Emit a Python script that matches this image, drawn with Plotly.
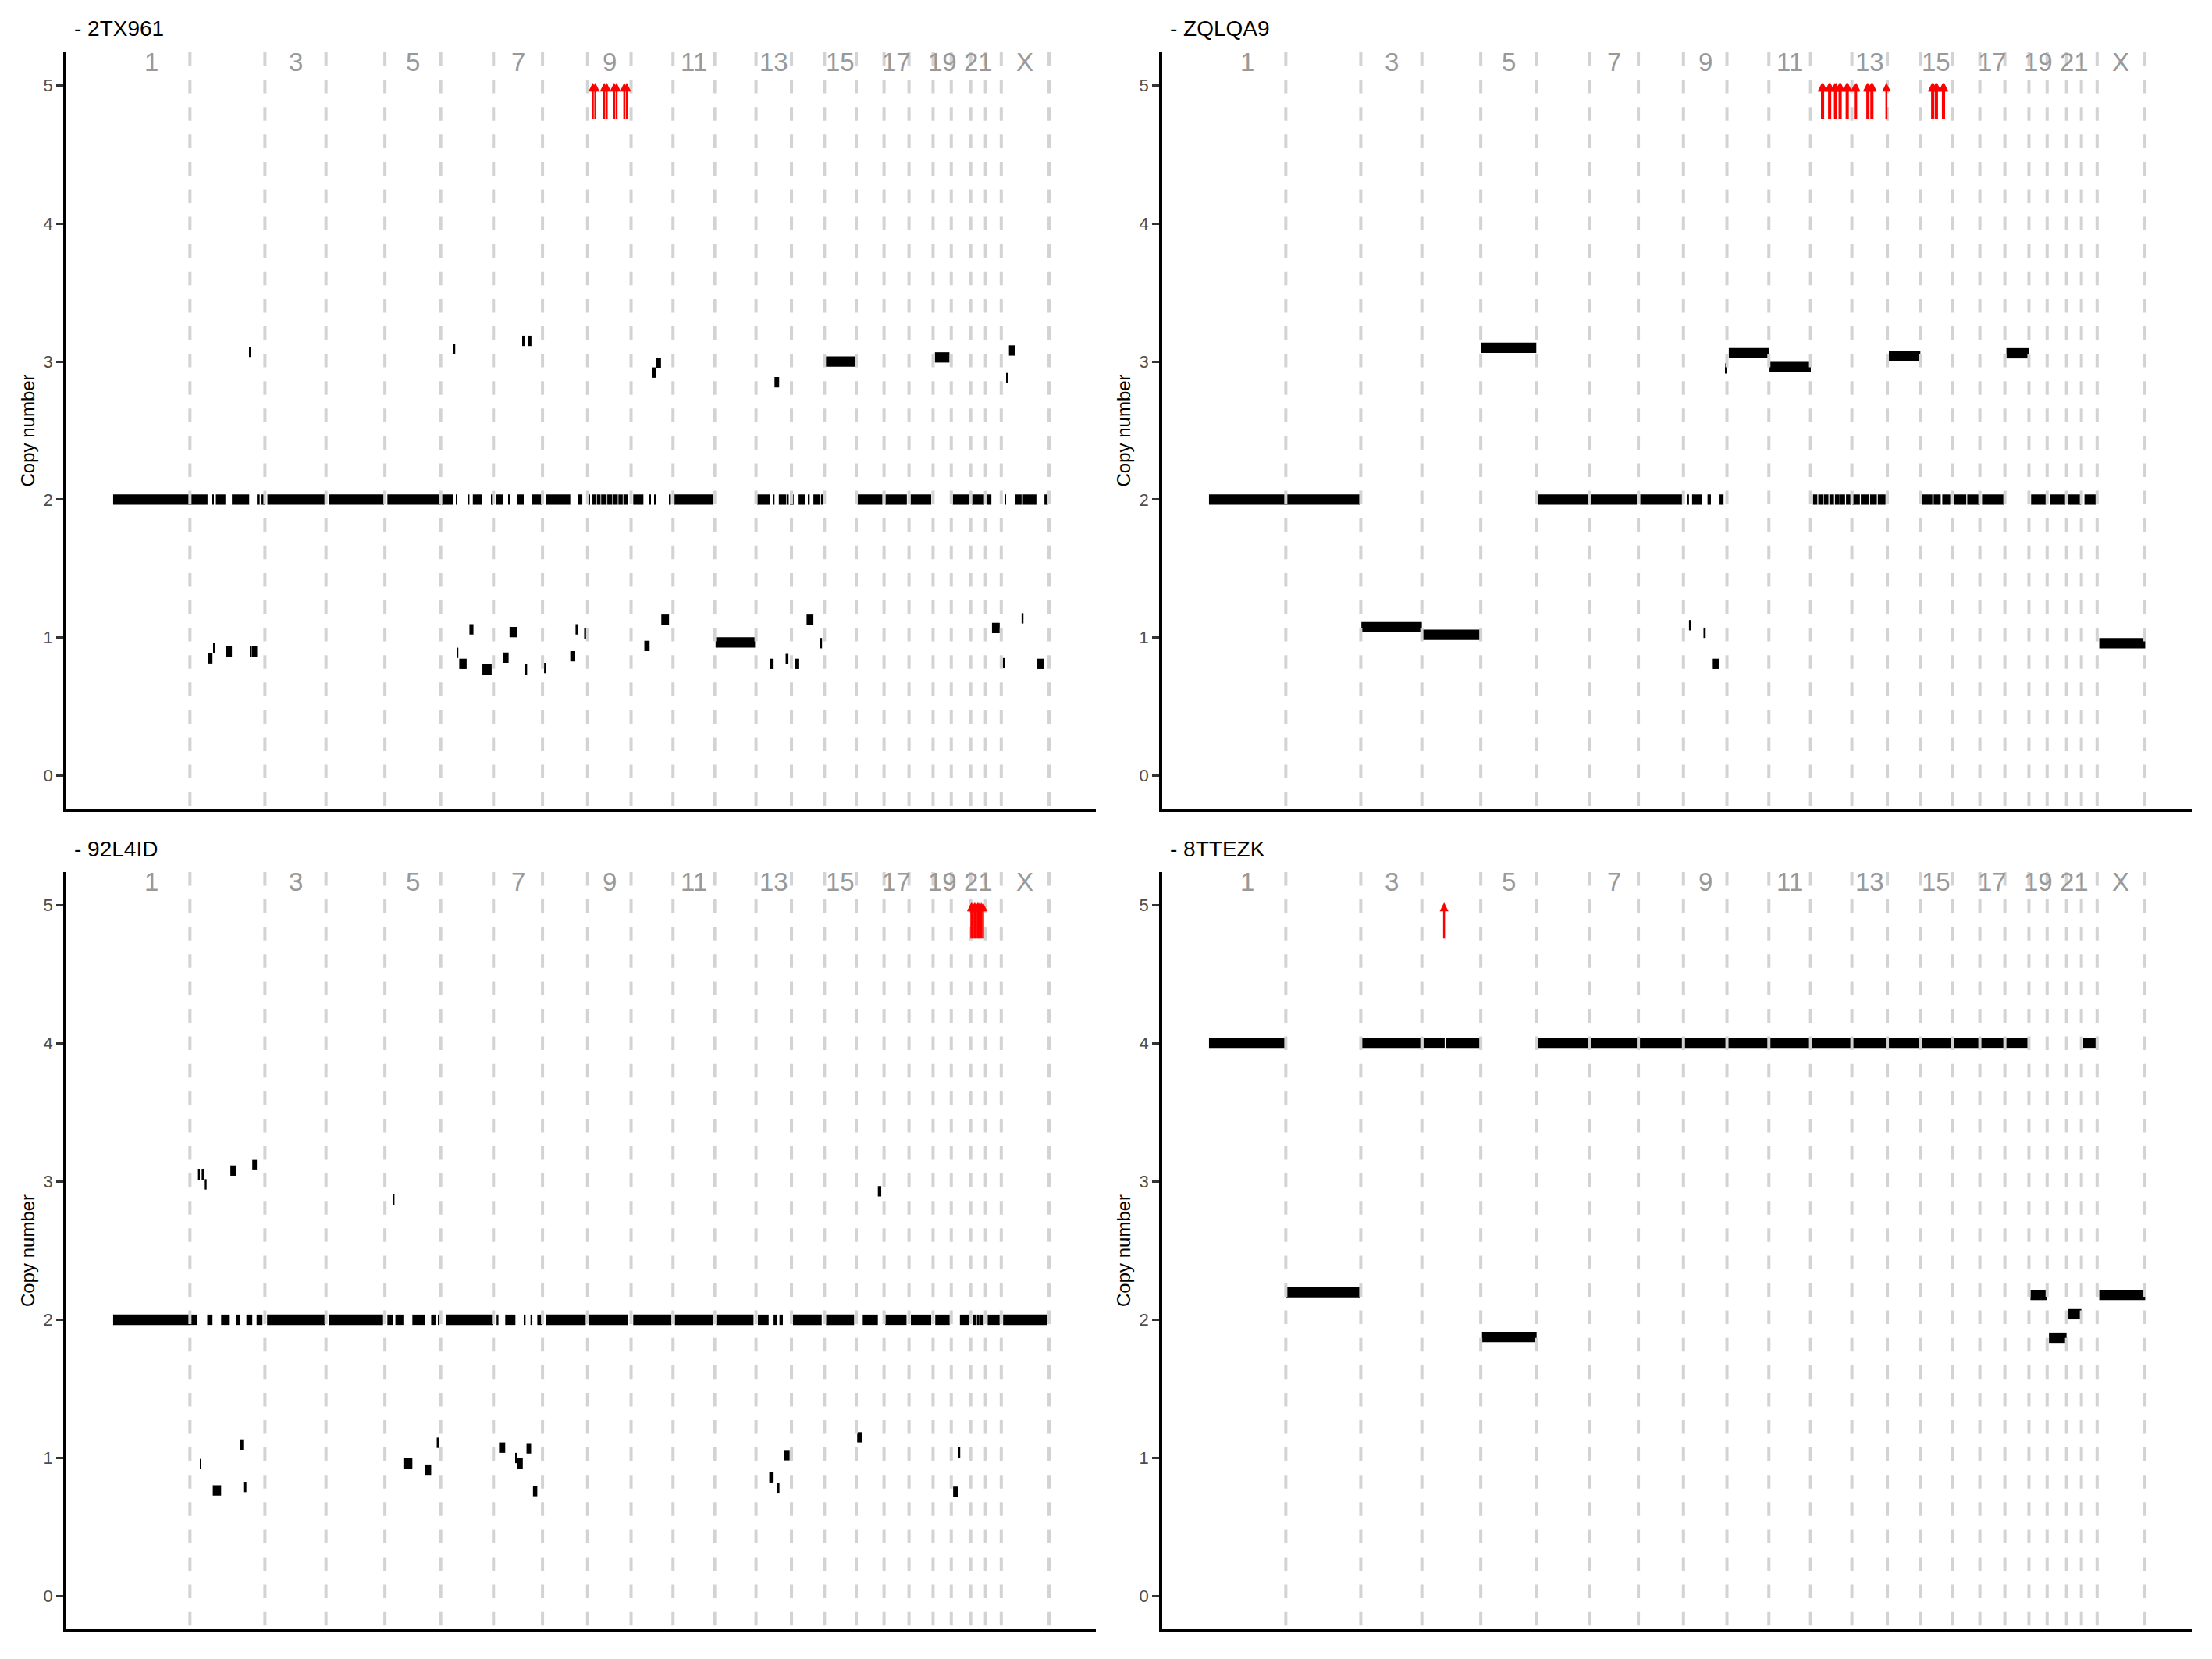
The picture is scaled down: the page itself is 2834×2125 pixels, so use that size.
import plotly.graph_objects as go

W, H = 2834, 2125
FONT = "Liberation Sans"

# ---------------- data ----------------
CHROMS = [str(i) for i in range(1, 23)] + ["X"]
CHROM_LEN_MB = [249, 243, 198, 191, 181, 171, 159, 146, 141, 136, 135, 134,
                115, 107, 103, 90, 81, 78, 59, 63, 48, 51, 155]
LABELED_CHROMS = ["1", "3", "5", "7", "9", "11", "13", "15", "17", "19", "21", "X"]
SAMPLES = ["2TX961", "ZQLQA9", "92L4ID", "8TTEZK"]
Y_TICKS = [0, 1, 2, 3, 4, 5]

# segments: (genome start Mb, genome end Mb, copy number)
SEG_2TX961 = [
    (0, 249, 2), (251, 306, 2), (322, 326, 2), (333, 364, 2), (385, 441, 2), (466, 475, 2),
    (481, 492, 2), (500, 688, 2), (699, 878, 2), (889, 1062, 2), (1065, 1102, 2), (1111, 1115, 2),
    (1150, 1155, 2), (1166, 1196, 2), (1227, 1232, 2), (1241, 1263, 2), (1281, 1285, 2),
    (1309, 1331, 2), (1358, 1392, 2), (1403, 1482, 2), (1507, 1521, 2), (1540, 1546, 2),
    (1552, 1566, 2), (1568, 1580, 2), (1582, 1600, 2), (1602, 1618, 2), (1620, 1636, 2),
    (1638, 1652, 2), (1654, 1670, 2), (1686, 1719, 2), (1739, 1743, 2), (1755, 1759, 2),
    (1803, 1808, 2), (1818, 1944, 2), (2088, 2130, 2), (2140, 2144, 2), (2158, 2182, 2),
    (2186, 2190, 2), (2194, 2206, 2), (2222, 2244, 2), (2252, 2258, 2), (2270, 2293, 2),
    (2297, 2300, 2), (2413, 2494, 2), (2503, 2573, 2), (2585, 2652, 2), (2722, 2775, 2),
    (2784, 2824, 2), (2834, 2847, 2), (2890, 2894, 2), (2925, 2945, 2), (2949, 2993, 2),
    (3019, 3030, 2),
    (441, 445, 3.07), (1101, 1109, 3.09), (1326, 1334, 3.15), (1344, 1356, 3.15),
    (1746, 1759, 2.92), (1761, 1776, 2.99), (2144, 2159, 2.85), (2308, 2406, 3.0),
    (2664, 2711, 3.03), (2895, 2900, 2.88), (2904, 2923, 3.08),
    (308, 322, 0.85), (325, 329, 0.925), (366, 385, 0.90), (443, 446, 0.90), (449, 467, 0.90),
    (1114, 1119, 0.89), (1122, 1146, 0.81), (1155, 1168, 1.06), (1197, 1227, 0.77),
    (1263, 1282, 0.855), (1285, 1309, 1.04), (1337, 1342, 0.77), (1397, 1403, 0.78),
    (1482, 1498, 0.865), (1499, 1507, 1.06), (1527, 1535, 1.03), (1722, 1739, 0.94),
    (1777, 1802, 1.13), (1953, 2081, 0.965), (2130, 2141, 0.81), (2180, 2189, 0.845),
    (2209, 2224, 0.81), (2248, 2270, 1.13), (2292, 2298, 0.96), (2849, 2874, 1.07),
    (2884, 2890, 0.815), (2945, 2951, 1.14), (2994, 3017, 0.81),
]

SEG_ZQLQA9 = [
    (0, 249, 2), (251, 490, 2), (494, 690, 1.075), (692, 879, 1.02), (883, 1061, 3.10),
    (1066, 1231, 2), (1236, 1387, 2), (1398, 1534, 2), (1549, 1556, 2), (1566, 1599, 2),
    (1616, 1627, 2), (1655, 1668, 2), (1556, 1562, 1.09), (1603, 1610, 1.035),
    (1633, 1653, 0.81), (1673, 1677, 2.95), (1685, 1815, 3.06), (1817, 1951, 2.96),
    (1958, 1972, 2), (1975, 1990, 2), (1993, 2008, 2), (2011, 2026, 2), (2029, 2044, 2),
    (2047, 2062, 2), (2065, 2082, 2), (2086, 2110, 2), (2113, 2140, 2), (2143, 2165, 2),
    (2168, 2193, 2), (2204, 2306, 3.04), (2312, 2345, 2), (2349, 2372, 2), (2377, 2403, 2),
    (2414, 2455, 2), (2458, 2499, 2), (2506, 2576, 2), (2585, 2658, 3.06), (2665, 2713, 2),
    (2726, 2776, 2), (2786, 2827, 2), (2838, 2875, 2), (2886, 3035, 0.96),
]

SEG_92L4ID = [
    (0, 249, 2), (251, 273, 2), (305, 322, 2), (350, 378, 2), (399, 410, 2), (432, 451, 2),
    (465, 484, 2), (499, 688, 2), (699, 875, 2), (889, 906, 2), (915, 941, 2), (970, 1010, 2),
    (1031, 1045, 2), (1053, 1058, 2), (1078, 1232, 2), (1243, 1249, 2), (1271, 1304, 2),
    (1331, 1337, 2), (1353, 1359, 2), (1375, 1392, 2), (1403, 1532, 2), (1543, 1670, 2),
    (1686, 1810, 2), (1821, 1944, 2), (1955, 2076, 2), (2090, 2125, 2), (2141, 2152, 2),
    (2160, 2171, 2), (2204, 2297, 2), (2311, 2402, 2), (2430, 2479, 2), (2503, 2572, 2),
    (2586, 2652, 2), (2665, 2712, 2), (2745, 2776, 2), (2787, 2797, 2), (2800, 2808, 2),
    (2811, 2822, 2), (2835, 2874, 2), (2885, 3028, 2),
    (275, 281, 3.05), (287, 294, 3.05), (297, 303, 2.98), (380, 399, 3.08), (451, 466, 3.12),
    (906, 912, 2.87), (2479, 2490, 2.93),
    (281, 286, 0.956), (323, 350, 0.765), (411, 422, 1.097), (422, 432, 0.79),
    (941, 970, 0.96), (1010, 1031, 0.915), (1049, 1056, 1.11), (1251, 1271, 1.075),
    (1304, 1309, 1.0), (1309, 1328, 0.96), (1340, 1355, 1.07), (1361, 1375, 0.76),
    (2127, 2141, 0.86), (2152, 2160, 0.78), (2174, 2193, 1.02), (2412, 2429, 1.15),
    (2742, 2746, 1.04), (2723, 2739, 0.755),
]

SEG_8TTEZK = [
    (0, 249, 4), (251, 490, 2.2), (494, 690, 4), (695, 764, 4), (768, 879, 4),
    (885, 1062, 1.875), (1064, 1232, 4), (1235, 1391, 4), (1394, 1537, 4), (1540, 1678, 4),
    (1681, 1814, 4), (1817, 1949, 4), (1952, 2083, 4), (2086, 2198, 4), (2201, 2305, 4),
    (2308, 2408, 4), (2411, 2498, 4), (2501, 2579, 4), (2582, 2657, 4), (2663, 2717, 2.18),
    (2723, 2780, 1.87), (2786, 2828, 2.04), (2834, 2879, 4), (2886, 3035, 2.18),
]

# arrow positions (genome Mb)
ARR_2TX961 = [1555, 1563, 1592, 1600, 1624, 1632, 1657, 1665]
ARR_ZQLQA9 = [1987, 1991, 2010, 2014, 2029, 2033, 2044, 2048, 2067, 2071, 2094, 2098,
              2134, 2138, 2147, 2151, 2196, 2344, 2348, 2356, 2360, 2379, 2383]
ARR_92L4ID = [2782, 2786, 2792, 2796, 2802, 2806, 2814, 2820]
ARR_8TTEZK = [762]

SEGMENTS = {"2TX961": SEG_2TX961, "ZQLQA9": SEG_ZQLQA9, "92L4ID": SEG_92L4ID, "8TTEZK": SEG_8TTEZK}
ARROWS = {"2TX961": ARR_2TX961, "ZQLQA9": ARR_ZQLQA9, "92L4ID": ARR_92L4ID, "8TTEZK": ARR_8TTEZK}

# ---------------- derived genome coordinates ----------------
chrom_start, acc = [], 0
for L in CHROM_LEN_MB:
    chrom_start.append(acc)
    acc += L
GENOME_LEN = acc
chrom_end = [s + L for s, L in zip(chrom_start, CHROM_LEN_MB)]
chrom_mid = [s + L / 2 for s, L in zip(chrom_start, CHROM_LEN_MB)]

# panel boxes in pixels: left, right, top, bottom
PANELS = [(85, 1404, 67, 1036), (1489, 2808, 67, 1036),
          (85, 1404, 1117, 2087), (1489, 2808, 1117, 2087)]

pad = 0.05 * GENOME_LEN
XR = [-pad, GENOME_LEN + pad]
YR = [-0.24, 5.24]
SEG_H = 0.075

fig = go.Figure()
layout = {}
shapes, annotations = [], []

for i, s in enumerate(SAMPLES):
    n = i + 1
    suf = "" if n == 1 else str(n)
    xa, ya = "x" + suf, "y" + suf
    l, r, t, b = PANELS[i]
    layout["xaxis" + suf] = dict(domain=[l / W, r / W], anchor=ya, range=XR, showline=True,
                                 linecolor="black", linewidth=3.5, showticklabels=False,
                                 ticks="", showgrid=False, zeroline=False)
    layout["yaxis" + suf] = dict(domain=[1 - b / H, 1 - t / H], anchor=xa, range=YR,
                                 tickvals=Y_TICKS, ticks="outside", ticklen=9, tickwidth=3,
                                 tickcolor="#333333",
                                 tickfont=dict(family=FONT, size=22, color="#4d4d4d"),
                                 showline=True, linecolor="black", linewidth=3.5,
                                 showgrid=False, zeroline=False)
    segs = SEGMENTS[s]
    fig.add_trace(go.Bar(
        x=[(a + e) / 2 for a, e, c in segs],
        width=[e - a for a, e, c in segs],
        base=[c - SEG_H / 2 for a, e, c in segs],
        y=[SEG_H] * len(segs),
        marker=dict(color="black", line=dict(width=0)),
        xaxis=xa, yaxis=ya, hoverinfo="skip", showlegend=False))
    for ce in chrom_end:
        shapes.append(dict(type="line", xref=xa, yref=ya + " domain", x0=ce, x1=ce, y0=1, y1=0,
                           line=dict(color="#d3d3d3", width=4, dash="17.5px,17.6px"),
                           layer="above"))
    for name, mid in zip(CHROMS, chrom_mid):
        if name in LABELED_CHROMS:
            annotations.append(dict(xref=xa, yref=ya, x=mid, y=5.167, text=name,
                                    showarrow=False, xanchor="center", yanchor="middle",
                                    font=dict(family=FONT, size=33, color="#999999")))
    for pos in ARROWS[s]:
        annotations.append(dict(xref=xa, yref=ya, axref=xa, ayref=ya, x=pos, y=5.02,
                                ax=pos, ay=4.75, text="", showarrow=True, arrowhead=2,
                                arrowsize=0.9, arrowwidth=2.5, arrowcolor="red"))
    annotations.append(dict(xref="paper", yref="paper", x=(l + 8) / W, y=1 - (t - 30) / H,
                            text="- " + s, showarrow=False, xanchor="left", yanchor="middle",
                            font=dict(family=FONT, size=28, color="black")))
    annotations.append(dict(xref="paper", yref="paper", x=(l - 50) / W, y=1 - ((t + b) / 2) / H,
                            text="Copy number", textangle=-90, showarrow=False,
                            xanchor="center", yanchor="middle",
                            font=dict(family=FONT, size=24, color="black")))

fig.update_layout(width=W, height=H, margin=dict(l=0, r=0, t=0, b=0), autosize=False,
                  paper_bgcolor="white", plot_bgcolor="white", barmode="overlay",
                  showlegend=False, shapes=shapes, annotations=annotations,
                  font=dict(family=FONT), **layout)

fig.write_html("out.html", config={"displayModeBar": False})
